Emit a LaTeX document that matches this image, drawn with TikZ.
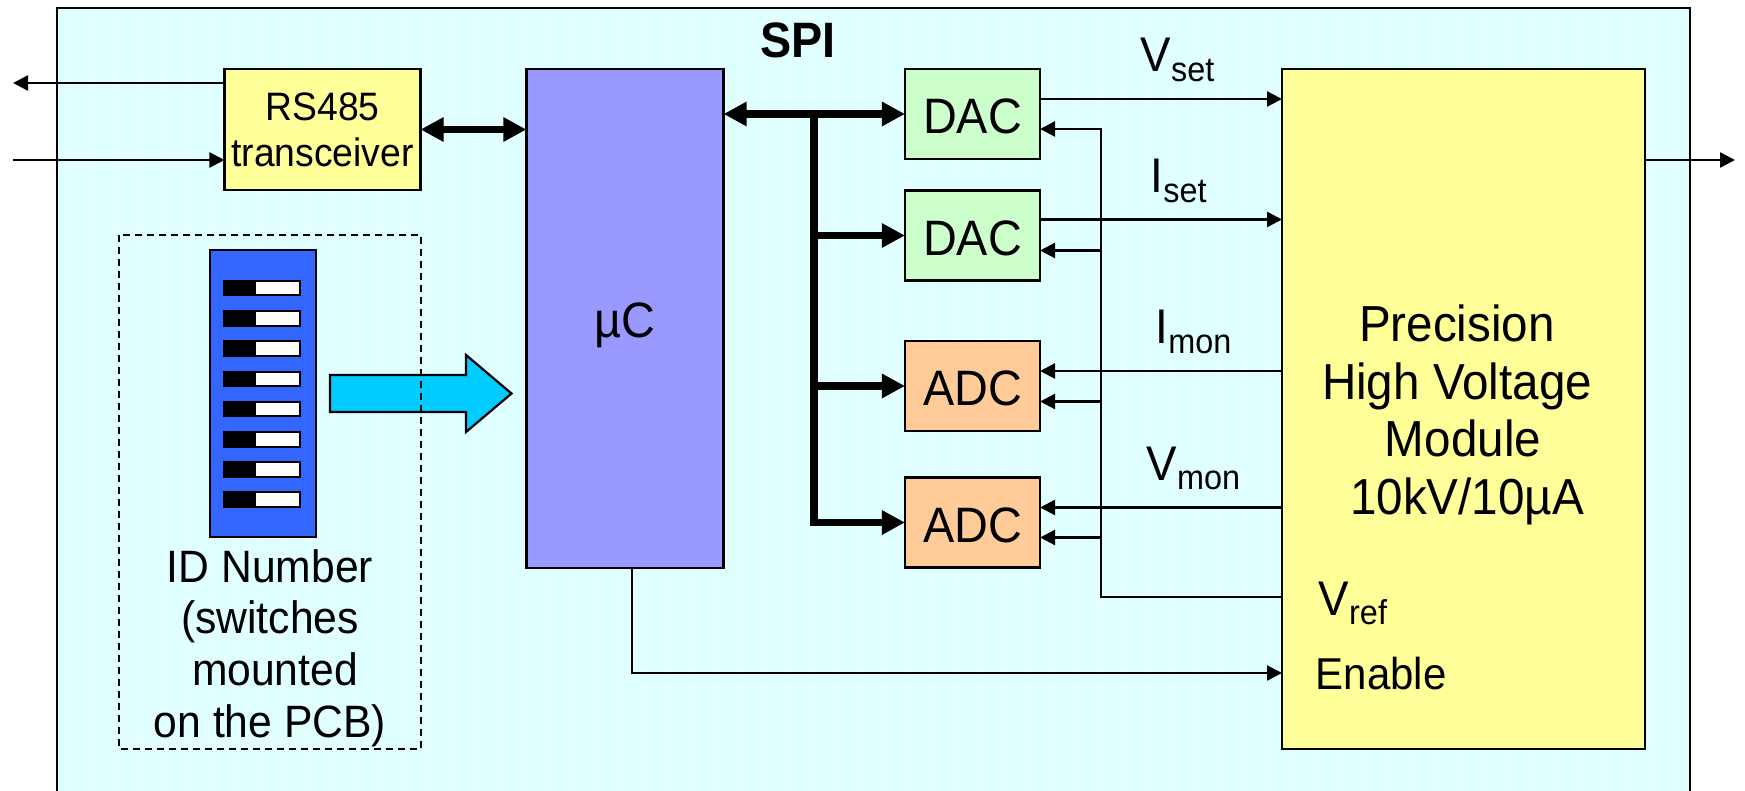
\documentclass[tikz,border=0pt]{standalone}
\usepackage{fontspec}
\setmainfont{Liberation Sans}[FakeStretch=0.94]
\usetikzlibrary{arrows.meta, calc, positioning}
\definecolor{panelcyan}{HTML}{E2FFFF}
\definecolor{gridcyan}{HTML}{D8FFFF}
\definecolor{moduleyellow}{HTML}{FFFF99}
\definecolor{mcuviolet}{HTML}{9999FF}
\definecolor{dacgreen}{HTML}{CCFFCC}
\definecolor{adcorange}{HTML}{FFCC99}
\definecolor{dipblue}{HTML}{3366FF}
\definecolor{idarrow}{HTML}{00CCFF}
\newcommand{\sigsize}{\fontsize{13.83}{15}\selectfont}
\newcommand{\siglabel}[2]{\sigsize #1\raisebox{-2.8pt}{\fontsize{9.8}{10}\selectfont #2}}
\tikzset{
  blockbox/.style={draw=black, line width=0.022cm, inner sep=0pt, outer sep=0pt, align=center},
  convbox/.style={blockbox, minimum width=1.35cm, minimum height=0.9cm, text height=0.39cm, text depth=0pt, font=\fontsize{14.15}{15}\selectfont},
  sigline/.style={line width=0.024cm},
  sigtip/.style={sigline, -{Triangle[length=0.15cm,width=0.15cm]}},
  bustip/.style={line width=0.075cm, -{Triangle[length=0.23cm,width=0.23cm]}},
  busboth/.style={line width=0.075cm, {Triangle[length=0.23cm,width=0.23cm]}-{Triangle[length=0.23cm,width=0.23cm]}},
  siglabelnode/.style={anchor=base west, inner sep=0pt}
}
\begin{document}
\begin{tikzpicture}[x=0.01cm, y=-0.01cm]
\clip (0,0) rectangle (1745,791);

% Panel
\fill[panelcyan] (57,8) rectangle (1690,800);
\draw[gridcyan, line width=0.01cm, xstep=12, ystep=12] (57,8) grid (1690,800);
\draw[line width=0.022cm] (57,800) -- (57,8) -- (1690,8) -- (1690,800);
\node[font=\bfseries\fontsize{14.15}{15}\selectfont, anchor=base, inner sep=0pt] (spi) at (798,58) {SPI};

% Blocks
\node[blockbox, fill=moduleyellow, minimum width=1.96cm, minimum height=1.21cm, font=\fontsize{11.28}{13}\selectfont] (rs) at (322.5,129.5) {RS485\\transceiver};
\node[blockbox, fill=mcuviolet, minimum width=1.97cm, minimum height=4.99cm, font=\fontsize{14.15}{15}\selectfont] (mcu) at (625,318.5) {};
\node[font=\fontsize{14.15}{15}\selectfont, inner sep=0pt] (mculabel) at (625,325) {µC};
\node[convbox, fill=dacgreen] (daca) at (972.5,114) {DAC};
\node[convbox, fill=dacgreen] (dacb) at (972.5,235.5) {DAC};
\node[convbox, fill=adcorange] (adca) at (972.5,386) {ADC};
\node[convbox, fill=adcorange] (adcb) at (972.5,522.5) {ADC};
\node[blockbox, fill=moduleyellow, minimum width=3.63cm, minimum height=6.8cm] (hvm) at (1463.5,409) {};
\node[font=\fontsize{14.4}{16.4}\selectfont, align=center, inner sep=0pt] (hvtext) at (1457,415) {Precision\\High Voltage\\\hspace{0.12cm}Module\\\hspace{0.2cm}10kV/10µA};

% Switches
\node[blockbox, fill=dipblue, minimum width=1.06cm, minimum height=2.87cm] (dip) at (263,393.5) {};
\foreach \i in {0,...,7} {
    \fill[black] (223,{280+30.2*\i}) rectangle (301,{296.5+30.2*\i});
    \fill[white] (256,{282+30.2*\i}) rectangle (299,{294.5+30.2*\i});
}
\node[font=\fontsize{12.9}{14.7}\selectfont, align=center, inner sep=0pt] (idtext) at (270,648) {ID Number\\(switches\\\hspace{0.1cm}mounted\\on the PCB)};

% Arrow out of the switches
\draw[line width=0.022cm, fill=idarrow] (330,375) -- (466,375) -- (466,355) -- (511.5,393.5) -- (466,432) -- (466,412) -- (330,412) -- cycle;
\draw[dashed, line width=0.015cm, dash pattern=on 0.07cm off 0.05cm] (119,235) rectangle (421,749);

% Serial lines
\coordinate (txend) at (13,83);
\coordinate (rxstart) at (13,160);
\coordinate (hvout) at (1735,160);
\draw[sigtip] (rs.west |- txend) -- (txend);
\draw[sigtip] (rxstart) -- (rs.west |- rxstart);
\draw[sigtip] (hvm.east |- hvout) -- (hvout);
\draw[busboth] (rs.east) -- (mcu.west |- rs.east);

% SPI bus
\coordinate (busa) at (814,114);
\coordinate (busd) at (814,522.5);
\draw[busboth] (mcu.east |- daca.west) -- (daca.west);
\draw[bustip, line join=miter] (busa) -- (busd) -- (adcb.west);
\draw[bustip] (busa |- dacb.west) -- (dacb.west);
\draw[bustip] (busa |- adca.west) -- (adca.west);

% Analog signals
\coordinate (vset) at (1282,99);
\coordinate (iset) at (1282,219.5);
\coordinate (imon) at (1282,371);
\coordinate (vmon) at (1282,507.5);
\coordinate (vref) at (1282,597);
\coordinate (enable) at (1282,673);
\coordinate (refbus) at (1101,129);
\draw[sigtip] (daca.east |- vset) -- (vset);
\draw[sigtip] (dacb.east |- iset) -- (iset);
\draw[sigtip] (imon) -- (adca.east |- imon);
\draw[sigtip] (vmon) -- (adcb.east |- vmon);

% Reference
\draw[sigtip] (vref) -| (refbus) -- (daca.east |- refbus);
\coordinate (refb) at (1101,250.5);
\coordinate (refc) at (1101,401.5);
\coordinate (refd) at (1101,537.5);
\draw[sigtip] (refb) -- (dacb.east |- refb);
\draw[sigtip] (refc) -- (adca.east |- refc);
\draw[sigtip] (refd) -- (adcb.east |- refd);

% Enable
\draw[sigtip] (mcu.south -| 632,0) |- (enable);

% Labels
\node[siglabelnode] (vsetlabel) at (1140,71.5) {\siglabel{V}{set}};
\node[siglabelnode] (isetlabel) at (1150,192.5) {\siglabel{I}{set}};
\node[siglabelnode] (imonlabel) at (1155,343.5) {\siglabel{I}{mon}};
\node[siglabelnode] (vmonlabel) at (1146,480) {\siglabel{V}{mon}};
\node[siglabelnode] (vreflabel) at (1318,615) {\siglabel{V}{ref}};
\node[siglabelnode, font=\fontsize{12.7}{14}\selectfont] (enlabel) at (1315,689) {Enable};
\end{tikzpicture}
\end{document}
